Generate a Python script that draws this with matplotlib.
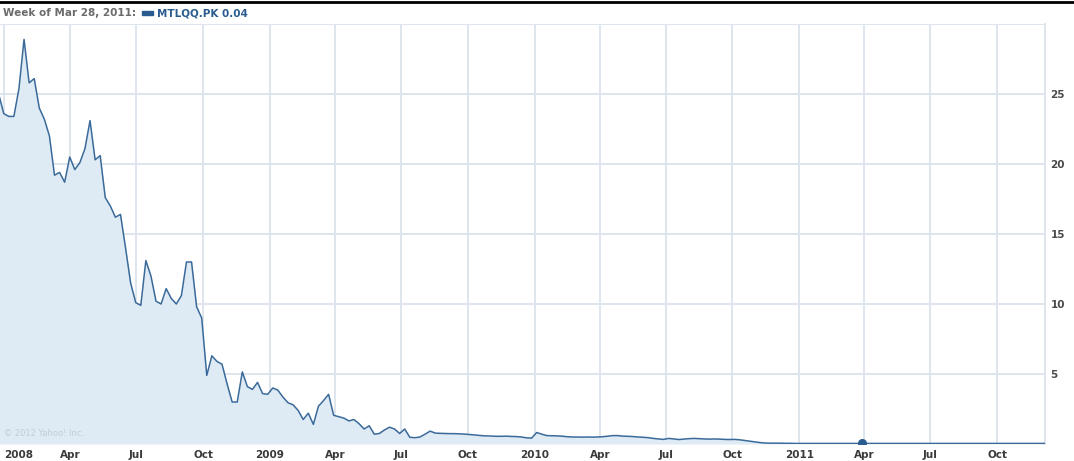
import matplotlib
matplotlib.use("Agg")
import matplotlib.pyplot as plt
import matplotlib.dates as mdates
import pandas as pd
from matplotlib.lines import Line2D

# ---- data (weekly closes, week starting Mondays) ----
start_week = "2007-12-24"
prices = [
    25.0, 23.6, 23.4, 23.4, 25.4, 28.9, 25.8, 26.1, 24.0, 23.2,
    22.0, 19.2, 19.4, 18.7, 20.5, 19.6, 20.1, 21.1, 23.1, 20.3,
    20.6, 17.6, 17.0, 16.2, 16.4, 14.0, 11.5, 10.1, 9.9, 13.1,
    12.0, 10.2, 10.0, 11.1, 10.4, 10.0, 10.6, 13.0, 13.0, 9.8,
    9.0, 4.9, 6.3, 5.9, 5.7, 4.3, 3.0, 3.0, 5.15, 4.1,
    3.9, 4.4, 3.6, 3.55, 4.0, 3.85, 3.35, 2.95, 2.8, 2.4,
    1.75, 2.2, 1.4, 2.7, 3.1, 3.55, 2.05, 1.95, 1.85, 1.65,
    1.75, 1.45, 1.07, 1.3, 0.7, 0.75, 1.0, 1.2, 1.07, 0.75,
    1.07, 0.48, 0.45, 0.5, 0.7, 0.92, 0.78, 0.76, 0.75, 0.74,
    0.74, 0.72, 0.7, 0.67, 0.64, 0.6, 0.58, 0.57, 0.55, 0.55,
    0.56, 0.54, 0.53, 0.5, 0.44, 0.42, 0.82, 0.7, 0.6, 0.59,
    0.58, 0.56, 0.52, 0.5, 0.5, 0.49, 0.5, 0.49, 0.5, 0.52,
    0.56, 0.6, 0.6, 0.56, 0.55, 0.53, 0.5, 0.48, 0.45, 0.4,
    0.36, 0.33, 0.4, 0.36, 0.32, 0.35, 0.38, 0.4, 0.38, 0.36,
    0.35, 0.36, 0.35, 0.33, 0.32, 0.33, 0.3, 0.25, 0.2, 0.15,
    0.1, 0.07, 0.06, 0.06, 0.06, 0.05, 0.05, 0.04, 0.04, 0.04,
    0.04, 0.04, 0.04, 0.04, 0.04, 0.04, 0.04, 0.04, 0.04, 0.04,
    0.04, 0.04, 0.04, 0.04, 0.04, 0.04, 0.04, 0.04, 0.04, 0.04,
    0.04, 0.04, 0.04, 0.04, 0.04, 0.04, 0.04, 0.04, 0.04, 0.04,
    0.04, 0.04, 0.04, 0.04, 0.04, 0.04, 0.04, 0.04, 0.04, 0.04,
    0.04, 0.04, 0.04, 0.04, 0.04, 0.04, 0.04,
]
highlight_date = "2011-03-28"
highlight_value = 0.04

x_tick_dates = ["2008-01-01", "2008-04-01", "2008-07-01", "2008-10-01",
                "2009-01-01", "2009-04-01", "2009-07-01", "2009-10-01",
                "2010-01-01", "2010-04-01", "2010-07-01", "2010-10-01",
                "2011-01-01", "2011-04-01", "2011-07-01", "2011-10-01"]
x_tick_labels = ["2008", "Apr", "Jul", "Oct", "2009", "Apr", "Jul", "Oct",
                 "2010", "Apr", "Jul", "Oct", "2011", "Apr", "Jul", "Oct"]
y_ticks = [5, 10, 15, 20, 25]
y_grid = [5, 10, 15, 20, 25, 30]

dates = pd.date_range(start_week, periods=len(prices), freq="7D")

# ---- styling ----
W, H = 1074, 461
fig = plt.figure(figsize=(W / 100, H / 100), dpi=100)
fig.patch.set_facecolor("white")
ax = fig.add_axes([0 / W, 17 / H, 1045 / W, (444 - 24) / H])

line_color = "#3a6a9a"
fill_color = "#deeaf4"
grid_color = "#dfe5ec"

ax.fill_between(dates, prices, 0, color=fill_color, lw=0, zorder=1)
ax.plot(dates, prices, color=line_color, lw=1.1, zorder=3)
ax.plot([pd.Timestamp(highlight_date)], [highlight_value], "o",
        color="#2a5c8f", ms=5.5, zorder=4, clip_on=True)

ax.set_xlim(pd.Timestamp("2007-12-25 20:00"), pd.Timestamp("2011-12-06"))
ax.set_ylim(0, 30)

for d in x_tick_dates:
    ax.axvline(pd.Timestamp(d), color=grid_color, lw=1.4, zorder=0.5)
for v in y_grid:
    ax.axhline(v, color=grid_color, lw=1.4, zorder=0.5)

for s in ["left", "bottom", "top"]:
    ax.spines[s].set_visible(False)
ax.spines["right"].set_color(grid_color)
ax.spines["right"].set_linewidth(1.4)

ax.set_xticks([pd.Timestamp(d) for d in x_tick_dates])
ax.set_xticklabels(x_tick_labels)
ax.tick_params(axis="x", length=0, pad=4, labelsize=7.5, labelcolor="#3a3a3a")
for lbl in ax.get_xticklabels():
    lbl.set_fontweight("bold")
ax.get_xticklabels()[0].set_horizontalalignment("left")

ax.yaxis.tick_right()
ax.set_yticks(y_ticks)
ax.set_yticklabels([str(v) for v in y_ticks])
ax.tick_params(axis="y", length=0, pad=4, labelsize=7.5, labelcolor="#4a4a4a")
for lbl in ax.get_yticklabels():
    lbl.set_fontweight("bold")

# copyright
ax.text(0.004, 0.015, "\u00a9 2012 Yahoo! Inc.", transform=ax.transAxes,
        fontsize=6, color="#c4ccd6", ha="left", va="bottom", zorder=2)

# header
fig.add_artist(Line2D([0, 1], [1 - 2 / H, 1 - 2 / H], color="black", lw=2))
fig.text(3 / W, 1 - 13 / H, "Week of Mar 28, 2011:", fontsize=7.5,
         fontweight="bold", color="#6b6b6b", ha="left", va="center")
fig.patches.append(plt.Rectangle((142 / W, 1 - 15 / H), 11 / W, 4 / H,
                                 transform=fig.transFigure, color="#2a5c8f"))
fig.text(157 / W, 1 - 13 / H, "MTLQQ.PK 0.04", fontsize=7.5,
         fontweight="bold", color="#2a5c8f", ha="left", va="center")

fig.savefig("out.png", dpi=100)
